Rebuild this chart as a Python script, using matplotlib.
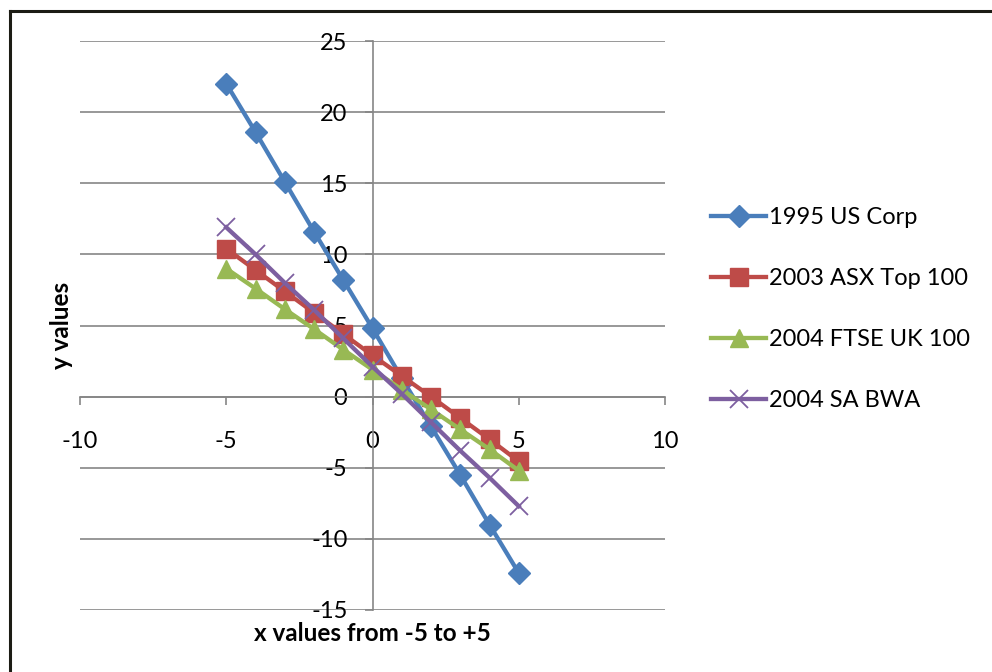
import matplotlib
matplotlib.use("Agg")
import matplotlib.pyplot as plt
from matplotlib.lines import Line2D

plt.rcParams['font.family'] = ['Lato', 'DejaVu Sans']

x_vals = [-5, -4, -3, -2, -1, 0, 1, 2, 3, 4, 5]
us_corp = [22.0, 18.6, 15.1, 11.6, 8.2, 4.8, 1.3, -2.1, -5.5, -9.0, -12.4]
asx_top100 = [10.4, 8.9, 7.4, 5.9, 4.4, 2.9, 1.45, 0.0, -1.5, -3.0, -4.55]
ftse_uk100 = [9.0, 7.6, 6.15, 4.75, 3.3, 1.9, 0.5, -0.9, -2.3, -3.7, -5.2]
sa_bwa = [11.9, 10.0, 8.0, 6.1, 4.1, 2.1, 0.2, -1.8, -3.8, -5.7, -7.7]

series_names = ["1995 US Corp", "2003 ASX Top 100", "2004 FTSE UK 100", "2004 SA BWA"]
x_ticks = [-10, -5, 0, 5, 10]
y_ticks = [-15, -10, -5, 0, 5, 10, 15, 20, 25]

W, H = 992, 672
fig = plt.figure(figsize=(W / 100, H / 100), dpi=100)
fig.patch.set_facecolor('white')

left, right, top, bottom = 80, 665, 41, 610
ax = fig.add_axes([left / W, 1 - bottom / H, (right - left) / W, (bottom - top) / H])
ax.set_xlim(-10, 10)
ax.set_ylim(-15, 25)

grid_c = '#868686'
for s in ['top', 'right']:
    ax.spines[s].set_visible(False)
ax.spines['left'].set_position(('data', 0))
ax.spines['bottom'].set_position(('data', 0))
for s in ['left', 'bottom']:
    ax.spines[s].set_color(grid_c)
    ax.spines[s].set_linewidth(1.2)
    ax.spines[s].set_zorder(1)

ax.set_xticks(x_ticks)
ax.set_yticks(y_ticks)
ax.set_xticklabels([str(v) for v in x_ticks])
ax.set_yticklabels([str(v) for v in y_ticks])
ax.yaxis.grid(True, color=grid_c, linewidth=1.2, zorder=0)
ax.set_axisbelow(True)
ax.tick_params(axis='x', direction='out', length=5.5, width=1.2, color=grid_c,
               labelsize=17, pad=19.5)
ax.tick_params(axis='y', direction='out', length=6, width=1.2, color=grid_c,
               labelsize=17, pad=12)

colors = ['#4A7EBB', '#BE4B48', '#98B954', '#7D5FA0']
lw = 3.1
ax.plot(x_vals, us_corp, color=colors[0], lw=lw, marker='D', ms=11,
        label=series_names[0], zorder=3)
ax.plot(x_vals, asx_top100, color=colors[1], lw=lw, marker='s', ms=12.5,
        label=series_names[1], zorder=3)
ax.plot(x_vals, ftse_uk100, color=colors[2], lw=lw, marker='^', ms=13.5,
        label=series_names[2], zorder=3)
ax.plot(x_vals, sa_bwa, color=colors[3], lw=lw, marker='x', ms=13, mew=1.3,
        label=series_names[3], zorder=3)

ax.text(0.5, -0.042, "x values from -5 to +5", transform=ax.transAxes,
        ha='center', va='center', fontsize=17.5, fontweight='bold')
ax.text(-0.031, 0.5, "y values", transform=ax.transAxes, rotation=90,
        ha='center', va='center', fontsize=17.5, fontweight='bold')

leg = ax.legend(loc='upper left', bbox_to_anchor=(711 / W, 1 - 207 / H),
                bbox_transform=fig.transFigure, frameon=False, fontsize=17,
                handlelength=2.35, handletextpad=0.1, labelspacing=1.70,
                borderaxespad=0, borderpad=0)

# outer chart frame (top and left edges visible)
fig.add_artist(Line2D([10 / W, 1], [1 - 11 / H, 1 - 11 / H], color='#1c1c14',
                      lw=2.2, transform=fig.transFigure))
fig.add_artist(Line2D([10 / W, 10 / W], [0, 1 - 11 / H], color='#1c1c14',
                      lw=2.2, transform=fig.transFigure))

fig.savefig('out.png', dpi=100)
